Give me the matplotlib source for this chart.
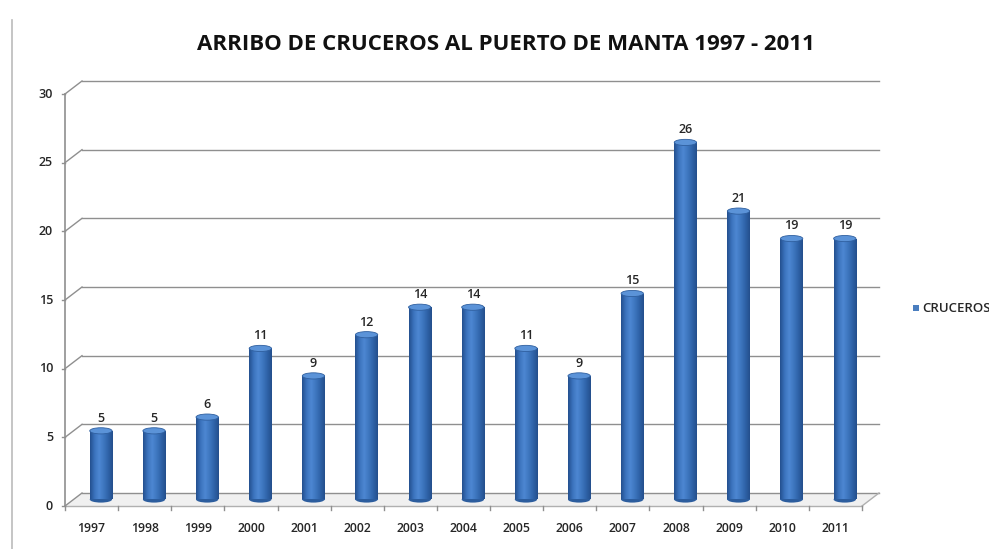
import matplotlib
matplotlib.use("Agg")
import matplotlib.pyplot as plt
import numpy as np
from matplotlib.transforms import ScaledTranslation
from matplotlib.patches import Ellipse, Polygon
from matplotlib.lines import Line2D
from matplotlib.colors import LinearSegmentedColormap

years = ["1997", "1998", "1999", "2000", "2001", "2002", "2003", "2004",
         "2005", "2006", "2007", "2008", "2009", "2010", "2011"]
cruceros = [5, 5, 6, 11, 9, 12, 14, 14, 11, 9, 15, 26, 21, 19, 19]
yticks = [0, 5, 10, 15, 20, 25, 30]
title = "ARRIBO DE CRUCEROS AL PUERTO DE MANTA 1997 - 2011"
legend_label = "CRUCEROS"

plt.rcParams['font.family'] = ['Open Sans', 'DejaVu Sans']

W, H, DPI = 989, 549, 100
fig = plt.figure(figsize=(W / DPI, H / DPI), dpi=DPI)
fig.patch.set_facecolor("white")

# front plot-area in pixels
L, R, B, T = 65, 862, 506, 94
ax = fig.add_axes([L / W, (H - B) / H, (R - L) / W, (B - T) / H])
ax.set_xlim(-0.5, len(years) - 0.5)
ax.set_ylim(0, 30)
ax.axis("off")

DX, DY = 17, 13       # depth offset (pixels) of the back wall
back = ax.transData + ScaledTranslation(DX / DPI, DY / DPI, fig.dpi_scale_trans)
mid = ax.transData + ScaledTranslation(0.55 * DX / DPI, 0.5 * DY / DPI, fig.dpi_scale_trans)

grid_c = "#8f8f8f"
txt_c = "#262626"
n = len(years)

def disp(x, y):
    return ax.transData.transform((x, y))

# floor
f0 = disp(-0.5, 0); f1 = disp(n - 0.5, 0)
floor = Polygon([f0, f1, f1 + [DX, DY], f0 + [DX, DY]], closed=True,
                transform=None, facecolor="#f0f0f0", edgecolor="none", zorder=0)
fig.add_artist(floor)

# back-wall gridlines + left diagonals
for v in yticks:
    ax.plot([-0.5, n - 0.5], [v, v], color=grid_c, lw=1.0, transform=back,
            clip_on=False, zorder=1)
    p = disp(-0.5, v)
    fig.add_artist(Line2D([p[0], p[0] + DX], [p[1], p[1] + DY], transform=None,
                          color=grid_c, lw=1.0, zorder=1))
    fig.add_artist(Line2D([p[0] - 3, p[0]], [p[1], p[1]], transform=None,
                          color=grid_c, lw=1.0, zorder=1))
    ax.text(-0.5, v, str(v), transform=ax.transData + ScaledTranslation(-12 / DPI, 0, fig.dpi_scale_trans),
            ha="right", va="center", fontsize=9, color=txt_c, fontweight="semibold")

# front left axis & floor front edge + right diagonal
ax.plot([-0.5, -0.5], [0, 30], color=grid_c, lw=1.2, clip_on=False, zorder=1)
ax.plot([-0.5, n - 0.5], [0, 0], color="#b0b0b0", lw=1.0, clip_on=False, zorder=1)
fig.add_artist(Line2D([f1[0], f1[0] + DX], [f1[1], f1[1] + DY], transform=None,
                      color="#b0b0b0", lw=1.0, zorder=1))
for i in range(n + 1):
    p = disp(i - 0.5, 0)
    fig.add_artist(Line2D([p[0], p[0]], [p[1], p[1] - 4], transform=None,
                          color=grid_c, lw=1.0))

# cylinders
cmap = LinearSegmentedColormap.from_list(
    "cyl", ["#24508f", "#3b73bd", "#4d87d2", "#3e77c0", "#2f63a8", "#244f8c"])
grad = np.linspace(0, 1, 64).reshape(1, -1)
bw = 0.42
bars = ax.bar(range(n), cruceros, width=bw, color="#3a70b8", transform=mid,
              zorder=3, clip_on=False)
for i, (b, v) in enumerate(zip(bars, cruceros)):
    im = ax.imshow(grad, cmap=cmap, aspect="auto", extent=[i - bw / 2, i + bw / 2, 0, v],
                   transform=mid, zorder=3.5, interpolation="bilinear")
    im.set_clip_path(b)
    ax.add_patch(Ellipse((i, 0), bw, 0.45, transform=mid, facecolor="#2c5d9e",
                         edgecolor="none", zorder=3.4, clip_on=False))
    ax.add_patch(Ellipse((i, v), bw, 0.45, transform=mid, facecolor="#5b93d8",
                         edgecolor="#2f5f9f", lw=0.6, zorder=4, clip_on=False))
    ax.text(i, v + 0.45, str(v), transform=mid, ha="center", va="bottom",
            fontsize=9, color=txt_c, fontweight="semibold", zorder=5)

# x labels
for i, y in enumerate(years):
    ax.text(i, 0, y, transform=ax.transData + ScaledTranslation(0, -22 / DPI, fig.dpi_scale_trans),
            ha="center", va="center", fontsize=8.8, color=txt_c, fontweight="semibold")

ax.set_xlim(-0.5, n - 0.5)
ax.set_ylim(0, 30)

# title
fig.text(506 / W, 1 - 45 / H, title, ha="center", va="center", fontsize=16,
         fontweight="bold", color="#111111")

# legend
fig.patches.append(matplotlib.patches.Rectangle((913 / W, 1 - 311 / H), 6 / W, 6 / H,
                   transform=fig.transFigure, facecolor="#4a7ebf", edgecolor="none"))
fig.text(922 / W, 1 - 308 / H, legend_label, ha="left", va="center", fontsize=9.5,
         color=txt_c, fontweight="semibold")

# chart border on the left
fig.add_artist(Line2D([12 / W, 12 / W], [0, 1 - 20 / H], transform=fig.transFigure,
                      color="#bbbbbb", lw=1.2))

fig.savefig("out.png", dpi=DPI)
